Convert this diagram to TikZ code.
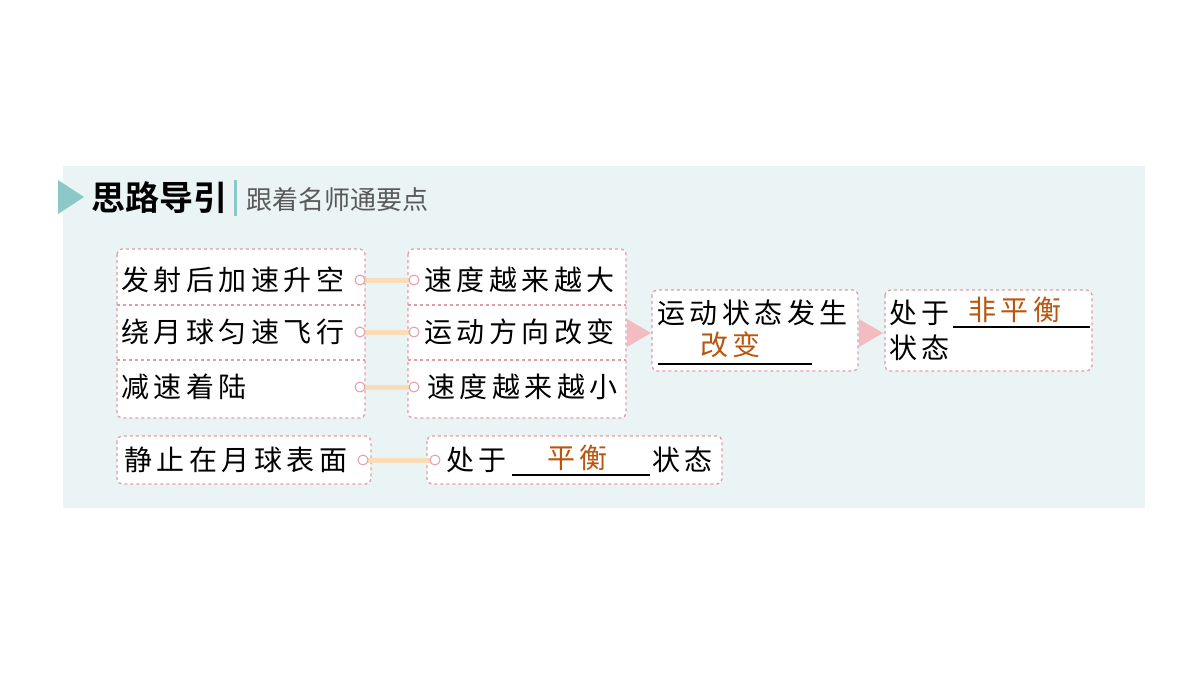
\documentclass[tikz,border=0pt]{standalone}
\usepackage{fontspec}
\newfontfamily\cjk[LetterSpace=16]{Noto Sans CJK SC}
\newfontfamily\cjkb[LetterSpace=0]{Noto Sans CJK SC Bold}
\newfontfamily\cjkn{Noto Sans CJK SC}
\definecolor{bg}{HTML}{EAF4F4}
\definecolor{teal}{HTML}{8CC8C8}
\definecolor{pinkb}{HTML}{E29CA6}
\definecolor{arr}{HTML}{F4BCC0}
\definecolor{conn}{HTML}{F8DDB8}
\definecolor{ans}{HTML}{B8560E}
\begin{document}
\begin{tikzpicture}[x=1pt,y=-1pt,
  box/.style={draw=pinkb,dashed,line width=1.3pt,rounded corners=5pt,fill=white},
  dv/.style={draw=pinkb,dashed,line width=1.3pt},
  t/.style={inner sep=0pt,anchor=west,font=\fontsize{28}{32}\cjk},
  a/.style={t,text=ans},
  cn/.style={conn,line width=5pt},
  dot/.style={circle,draw=pinkb,fill=white,line width=1pt,inner sep=0pt,minimum size=10pt},
  ar/.style={fill=arr,draw=none},
  ul/.style={line width=1.4pt}]
\useasboundingbox (0,0) rectangle (1200,675);
\fill[white] (0,0) rectangle (1200,675);
\fill[bg] (63,166) rectangle (1145,508);
% title
\fill[teal] (58,180) -- (84,197) -- (58,214) -- cycle;
\node[inner sep=0pt,anchor=west,font=\fontsize{34}{38}\cjkb] (title) at (91,198) {思路导引};
\fill[teal] (234,180) rectangle (237,216);
\node[inner sep=0pt,anchor=west,font=\fontsize{26}{30}\cjkn,text=black!65] (sub) at (246,200) {跟着名师通要点};
% left column
\draw[box] (117,249) rectangle (365,418);
\draw[dv] (117,305) -- (365,305); \draw[dv] (117,360) -- (365,360);
\draw[box] (408,249) rectangle (626,418);
\draw[dv] (408,305) -- (626,305); \draw[dv] (408,360) -- (626,360);
\node[t] (l1) at (121,280) {发射后加速升空};
\node[t] (l2) at (121,332) {绕月球匀速飞行};
\node[t] (l3) at (121,387) {减速着陆};
\node[t] (r1) at (424,280) {速度越来越大};
\node[t] (r2) at (424,332) {运动方向改变};
\node[t] (r3) at (427,387) {速度越来越小};
\foreach \y/\n in {280/1,332/2,387/3}{
  \coordinate (ca\n) at (360,\y); \coordinate (cb\n) at (414,\y);
  \draw[cn] (ca\n) -- (cb\n);
  \node[dot] at (ca\n) {}; \node[dot] at (cb\n) {};
}
% arrows
\fill[ar] (627,319) -- (651,333) -- (627,347) -- cycle;
\fill[ar] (859,319) -- (883,333) -- (859,347) -- cycle;
% box 3
\draw[box] (652,290) rectangle (858,371);
\node[t] (m1) at (657,313) {运动状态发生};
\draw[ul] (658,364) -- (812,364);
\node[a] (m2) at (700,345) {改变};
% box 4
\draw[box] (885,290) rectangle (1092,371);
\node[t] (n1) at (889,313) {处于};
\draw[ul] (953,327) -- (1090,327);
\node[a] (n2) at (968,310) {非平衡};
\node[t] (n3) at (889,348) {状态};
% bottom
\draw[box] (117,436) rectangle (371,484);
\node[t] (b1) at (124,460) {静止在月球表面};
\draw[box] (427,436) rectangle (722,484);
\coordinate (cc) at (363,460); \coordinate (cd) at (435,460);
\draw[cn] (cc) -- (cd);
\node[dot] at (cc) {}; \node[dot] at (cd) {};
\node[t] (b2) at (446,460) {处于};
\draw[ul] (512,475) -- (650,475);
\node[a] (b3) at (547,458) {平衡};
\node[t] (b4) at (652,460) {状态};
\end{tikzpicture}
\end{document}
